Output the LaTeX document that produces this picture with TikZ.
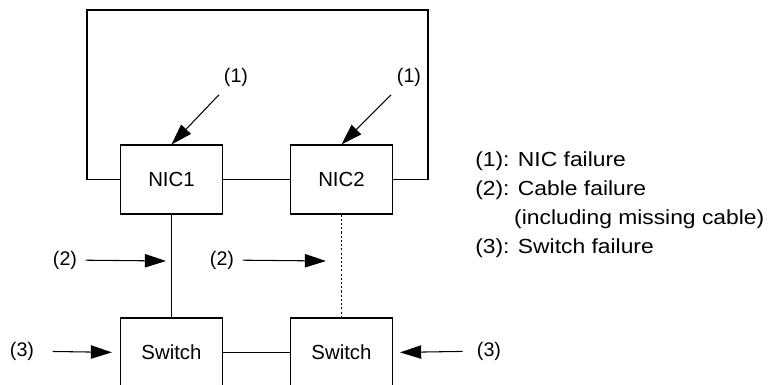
\documentclass[tikz,border=0pt]{standalone}
\usepackage{fontspec}
\setmainfont{Liberation Sans}
\newfontfamily\widesans[FakeStretch=1.12]{Liberation Sans}
\usetikzlibrary{arrows.meta}
\tikzset{
      unitbox/.style={
        draw,
        line width=0.75pt,
        minimum width=2.55cm,
        minimum height=1.725cm,
        inner sep=0pt,
        font=\fontsize{14.5}{17}\selectfont
      },
      faillabel/.style={
        inner sep=6pt,
        font=\fontsize{14}{17}\selectfont
      },
      failarrow/.style={
        -{Triangle[length=15pt,width=9.5pt]},
        line width=0.75pt
      },
      cable/.style={line width=0.75pt}
    }
\begin{document}
\begin{tikzpicture}[x=0.025cm,y=-0.025cm]
    \useasboundingbox (0,0) rectangle (771,385);
    \clip (0,0) rectangle (771,385);
    \node[unitbox] (nic1) at (171.5,179.5) {NIC1};
    \node[unitbox] (nic2) at (341.5,179.5) {NIC2};
    \node[unitbox] (sw1) at (171.5,352.5) {Switch};
    \node[unitbox] (sw2) at (341.5,352.5) {Switch};
    \coordinate (loopnw) at (87,10);
    \coordinate (loopne) at (428,10);
    \draw[cable] (nic1.west) -| (loopnw) -- (loopne) |- (nic2.east);
    \draw[cable] (nic1) -- (nic2);
    \draw[cable] (sw1) -- (sw2);
    \draw[cable] (nic1) -- (sw1);
    \draw[cable, dash pattern=on 1.5pt off 1.5pt] (nic2) -- (sw2);
    % failure points
    \node[faillabel] (l1a) at (236,77) {(1)};
    \node[faillabel] (l1b) at (409,77) {(1)};
    \node[faillabel] (l2a) at (65,260) {(2)};
    \node[faillabel] (l2b) at (222,260) {(2)};
    \node[faillabel] (l3a) at (22,351) {(3)};
    \node[faillabel] (l3b) at (489,351) {(3)};
    \coordinate (cut1) at (166,261);
    \coordinate (cut2) at (326,261);
    \draw[failarrow] (l1a) -- (nic1.north);
    \draw[failarrow] (l1b) -- (nic2.north);
    \draw[failarrow] (l2a) -- (cut1);
    \draw[failarrow] (l2b) -- (cut2);
    \draw[failarrow, shorten <=7pt, shorten >=5.7pt] (l3a) -- (sw1.west);
    \draw[failarrow, shorten <=4pt, shorten >=5pt] (l3b) -- (sw2.east);
    % legend
    \node[anchor=north west, inner sep=0pt, align=left, font=\widesans\fontsize{14.5}{20.6}\selectfont] (legend) at (475,151.5)
      {(1): NIC failure\\(2): Cable failure\\\hspace*{27.7pt}(including missing cable)\\(3): Switch failure};
\end{tikzpicture}
\end{document}
